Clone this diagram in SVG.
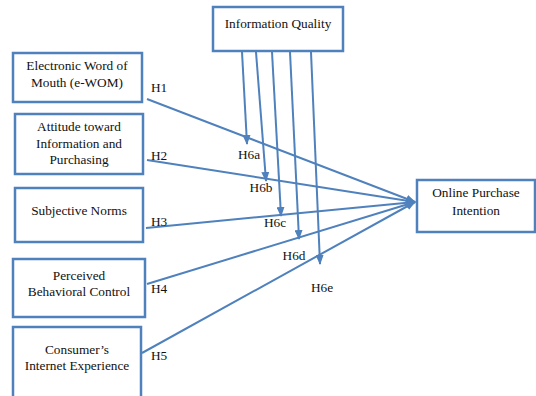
<svg xmlns="http://www.w3.org/2000/svg" width="536" height="396" viewBox="0 0 536 396">
<style>
.box{fill:#fff;stroke:#4f81bd;stroke-width:2.5}
.t{font-size:13.3px;fill:#111;text-anchor:middle}
.l{font-size:13.3px;fill:#111}
.c{stroke:#4f81bd;stroke-width:2;fill:none;marker-end:url(#ah)}
</style>
<defs>
<marker id="ah" markerWidth="10" markerHeight="8" refX="9" refY="4" orient="auto" markerUnits="userSpaceOnUse">
<path d="M0,0 L10,4 L0,8 Z" fill="#4f81bd"/>
</marker>
</defs>
<rect width="536" height="396" fill="#fff"/>
<g id="connectors">
<path class="c" d="M147,99 L415,202"/>
<path class="c" d="M147,160 L415,202"/>
<path class="c" d="M146,228 L415,202"/>
<path class="c" d="M147,284 L415,202"/>
<path class="c" d="M142,353 L415,202"/>
<path class="c" d="M242,52 L247,144"/>
<path class="c" d="M256,52 L266,181"/>
<path class="c" d="M272,52 L281,216"/>
<path class="c" d="M290,52 L299,239"/>
<path class="c" d="M311,52 L320,264"/>
</g>
<g id="labels">
<text class="l" font-family="Liberation Serif" x="151" y="92">H1</text>
<text class="l" font-family="Liberation Serif" x="151" y="160">H2</text>
<text class="l" font-family="Liberation Serif" x="151" y="226">H3</text>
<text class="l" font-family="Liberation Serif" x="151" y="293">H4</text>
<text class="l" font-family="Liberation Serif" x="151" y="360">H5</text>
<text class="t" font-family="Liberation Serif" x="249" y="159">H6a</text>
<text class="t" font-family="Liberation Serif" x="261" y="192">H6b</text>
<text class="t" font-family="Liberation Serif" x="275" y="227">H6c</text>
<text class="t" font-family="Liberation Serif" x="294" y="260">H6d</text>
<text class="t" font-family="Liberation Serif" x="322" y="292">H6e</text>
</g>
<g id="info-quality">
<rect class="box" x="213" y="7" width="130" height="44"/>
<text class="t" font-family="Liberation Serif" x="278" y="28">Information Quality</text>
</g>
<g id="ewom">
<rect class="box" x="13" y="53" width="129" height="49"/>
<text class="t" font-family="Liberation Serif" x="77" y="70">Electronic Word of</text>
<text class="t" font-family="Liberation Serif" x="77" y="87">Mouth (e-WOM)</text>
</g>
<g id="attitude">
<rect class="box" x="15" y="114" width="128" height="60"/>
<text class="t" font-family="Liberation Serif" x="79" y="131">Attitude toward</text>
<text class="t" font-family="Liberation Serif" x="79" y="148">Information and</text>
<text class="t" font-family="Liberation Serif" x="79" y="164">Purchasing</text>
</g>
<g id="subjective-norms">
<rect class="box" x="15" y="188" width="128" height="54"/>
<text class="t" font-family="Liberation Serif" x="79" y="215">Subjective Norms</text>
</g>
<g id="pbc">
<rect class="box" x="13" y="259" width="132" height="58"/>
<text class="t" font-family="Liberation Serif" x="79" y="280">Perceived</text>
<text class="t" font-family="Liberation Serif" x="79" y="296">Behavioral Control</text>
</g>
<g id="internet-experience">
<rect class="box" x="13" y="327" width="128" height="72"/>
<text class="t" font-family="Liberation Serif" x="77" y="354">Consumer’s</text>
<text class="t" font-family="Liberation Serif" x="77" y="370">Internet Experience</text>
</g>
<g id="online-purchase-intention">
<rect class="box" x="417" y="180" width="118" height="52"/>
<text class="t" font-family="Liberation Serif" x="476" y="197">Online Purchase</text>
<text class="t" font-family="Liberation Serif" x="476" y="215">Intention</text>
</g>
</svg>
